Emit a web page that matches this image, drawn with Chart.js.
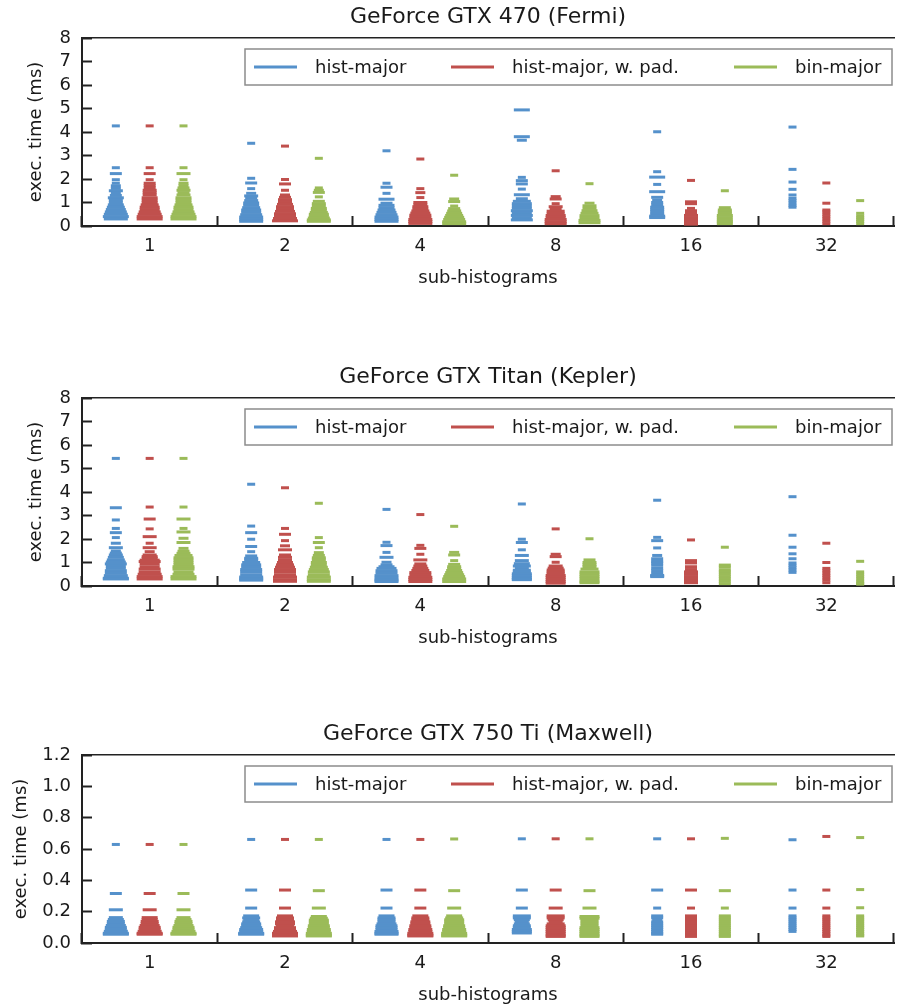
<!DOCTYPE html>
<html>
<head>
<meta charset="utf-8">
<script src="https://cdn.jsdelivr.net/npm/chart.js@4/dist/chart.umd.min.js"></script>
<style>
  html, body { margin: 0; padding: 0; background: #fff; overflow: hidden; }
  .panel { position: absolute; left: 0; width: 910px; height: 291px; }
</style>
</head>
<body>
<div class="panel" style="top:0px"><canvas id="fermi" width="910" height="291"></canvas></div>
<div class="panel" style="top:360px"><canvas id="kepler" width="910" height="291"></canvas></div>
<div class="panel" style="top:717px"><canvas id="maxwell" width="910" height="291"></canvas></div>
<script>
// sub-histogram counts on the x axis
var categories = ["1", "2", "4", "8", "16", "32"];
var seriesNames = ["hist-major", "hist-major, w. pad.", "bin-major"];
var seriesColors = ["#5591cb", "#c0504d", "#9bbb59"];

// each category: list of [exec. time in ms, number of runs at that time]
var fermiHist = [
  [[4.26,1],[2.48,1],[2.23,3],[1.97,1],[1.82,1],[1.71,2],[1.6,2],[1.5,4],[1.4,2],[1.3,3],[1.2,5],[1.1,4],[1.0,4],[0.9,5],[0.8,6],[0.7,7],[0.6,8],[0.5,9],[0.4,10],[0.3,9]],
  [[3.52,1],[2.03,1],[1.83,3],[1.59,1],[1.39,2],[1.28,4],[1.18,3],[1.08,4],[0.98,5],[0.88,5],[0.78,6],[0.68,7],[0.58,7],[0.48,8],[0.38,9],[0.28,9],[0.2,9]],
  [[3.2,1],[1.82,1],[1.65,3],[1.39,1],[1.14,5],[0.97,3],[0.88,5],[0.78,5],[0.68,6],[0.58,7],[0.48,8],[0.38,9],[0.28,9],[0.2,9]],
  [[4.94,5],[3.8,5],[3.65,2],[2.07,1],[1.93,3],[1.79,3],[1.57,1],[1.33,5],[1.16,3],[1.05,6],[0.95,7],[0.85,7],[0.75,7],[0.65,8],[0.55,7],[0.45,8],[0.35,7],[0.26,8]],
  [[4.01,1],[2.31,1],[2.08,5],[1.77,1],[1.46,5],[1.22,3],[1.1,2],[1.0,3],[0.9,3],[0.8,4],[0.7,4],[0.6,4],[0.5,4],[0.42,5],[0.36,5]],
  [[4.21,1],[2.41,1],[1.87,1],[1.56,1],[1.32,1],[1.18,1],[1.08,1],[0.98,1],[0.88,1],[0.8,1]]
];
var fermiPad = [
  [[4.26,1],[2.48,1],[2.23,3],[1.97,1],[1.82,3],[1.72,3],[1.62,3],[1.52,4],[1.42,4],[1.32,4],[1.2,5],[1.1,5],[1.0,5],[0.9,6],[0.8,7],[0.7,7],[0.6,8],[0.5,9],[0.4,10],[0.3,10]],
  [[3.4,1],[1.98,1],[1.79,3],[1.52,1],[1.32,2],[1.22,3],[1.12,4],[1.02,4],[0.92,5],[0.82,6],[0.72,6],[0.62,7],[0.52,8],[0.42,8],[0.32,9],[0.22,10]],
  [[2.85,1],[1.59,1],[1.42,2],[1.21,1],[1.0,4],[0.9,4],[0.82,5],[0.72,5],[0.64,6],[0.55,7],[0.46,8],[0.37,8],[0.28,9],[0.19,9],[0.11,9]],
  [[2.35,1],[1.25,2],[1.15,3],[0.95,1],[0.82,4],[0.72,3],[0.63,6],[0.54,6],[0.45,7],[0.37,7],[0.28,8],[0.18,8],[0.1,8]],
  [[1.94,1],[1.03,3],[0.95,3],[0.75,1],[0.65,3],[0.54,3],[0.45,4],[0.35,4],[0.25,4],[0.16,4],[0.08,4]],
  [[1.83,1],[0.97,1],[0.68,1],[0.6,1],[0.5,1],[0.4,1],[0.3,1],[0.2,1],[0.1,1]]
];
var fermiBin = [
  [[4.26,1],[2.48,1],[2.23,4],[1.97,1],[1.82,2],[1.72,2],[1.62,3],[1.52,4],[1.42,3],[1.32,4],[1.2,5],[1.1,5],[1.0,5],[0.9,6],[0.8,7],[0.7,7],[0.6,8],[0.5,9],[0.4,10],[0.3,10]],
  [[2.88,1],[1.62,1],[1.52,2],[1.43,3],[1.24,1],[1.05,3],[0.95,4],[0.85,4],[0.75,5],[0.67,5],[0.58,6],[0.5,7],[0.42,7],[0.34,8],[0.26,9],[0.2,9]],
  [[2.16,1],[1.15,2],[1.04,3],[0.85,1],[0.74,3],[0.64,4],[0.54,5],[0.45,6],[0.37,7],[0.28,8],[0.18,9],[0.1,9]],
  [[1.8,1],[0.97,2],[0.86,4],[0.75,4],[0.65,5],[0.54,6],[0.44,7],[0.33,7],[0.24,8],[0.14,8]],
  [[1.5,1],[0.78,3],[0.68,4],[0.6,4],[0.54,4],[0.45,5],[0.35,5],[0.25,5],[0.18,5],[0.1,5]],
  [[1.08,1],[0.54,1],[0.43,1],[0.35,1],[0.27,1],[0.19,1],[0.1,1]]
];

var keplerHist = [
  [[5.43,1],[3.33,3],[2.81,1],[2.45,1],[2.27,3],[2.06,1],[1.82,2],[1.63,4],[1.49,2],[1.4,3],[1.32,4],[1.22,5],[1.11,6],[1.02,7],[0.94,8],[0.85,7],[0.75,7],[0.65,8],[0.54,8],[0.44,9],[0.33,10],[0.3,10]],
  [[4.33,1],[2.55,1],[2.27,3],[1.99,1],[1.68,3],[1.46,1],[1.28,3],[1.18,4],[1.11,4],[1.0,6],[0.9,7],[0.8,7],[0.7,8],[0.6,8],[0.48,8],[0.38,9],[0.3,9],[0.25,9]],
  [[3.26,1],[1.86,1],[1.72,3],[1.43,1],[1.22,4],[1.01,2],[0.9,3],[0.82,5],[0.75,7],[0.65,8],[0.54,8],[0.44,9],[0.33,9],[0.25,9],[0.19,9]],
  [[3.49,1],[1.99,1],[1.85,3],[1.54,1],[1.3,4],[1.08,4],[0.95,5],[0.85,6],[0.75,4],[0.67,6],[0.6,6],[0.52,7],[0.44,7],[0.36,7],[0.3,7],[0.27,7]],
  [[3.65,1],[2.07,1],[1.93,3],[1.62,1],[1.3,2],[1.16,3],[1.05,3],[0.98,3],[0.88,3],[0.75,3],[0.65,3],[0.54,3],[0.45,4],[0.4,4]],
  [[3.8,1],[2.16,1],[1.65,1],[1.37,1],[1.16,1],[0.98,1],[0.88,1],[0.78,1],[0.68,1],[0.58,1]]
];
var keplerPad = [
  [[5.43,1],[3.36,1],[2.85,3],[2.43,1],[2.1,4],[1.82,1],[1.63,4],[1.46,2],[1.32,4],[1.25,5],[1.18,5],[1.1,7],[1.04,8],[0.94,7],[0.82,7],[0.72,8],[0.6,8],[0.5,9],[0.4,10],[0.3,10]],
  [[4.18,1],[2.45,1],[2.2,3],[1.93,1],[1.71,2],[1.54,4],[1.32,3],[1.22,4],[1.11,4],[1.0,5],[0.9,6],[0.8,7],[0.7,8],[0.6,8],[0.48,8],[0.38,9],[0.27,9],[0.2,9]],
  [[3.04,1],[1.73,1],[1.6,3],[1.35,1],[1.11,4],[0.94,3],[0.85,4],[0.75,5],[0.66,6],[0.57,8],[0.47,8],[0.37,9],[0.28,9],[0.19,9]],
  [[2.43,1],[1.35,2],[1.25,3],[1.01,1],[0.85,4],[0.76,5],[0.68,6],[0.6,6],[0.54,6],[0.45,7],[0.37,7],[0.28,7],[0.19,7],[0.12,7]],
  [[1.96,1],[1.08,3],[0.98,3],[0.82,3],[0.7,3],[0.6,4],[0.5,4],[0.4,4],[0.3,4],[0.22,4],[0.14,4]],
  [[1.82,1],[1.0,1],[0.75,1],[0.65,1],[0.55,1],[0.45,1],[0.35,1],[0.25,1],[0.14,1]]
];
var keplerBin = [
  [[5.43,1],[3.36,1],[2.85,4],[2.45,1],[2.3,4],[2.03,2],[1.85,4],[1.6,2],[1.48,3],[1.39,4],[1.3,6],[1.2,7],[1.1,7],[1.0,7],[0.9,7],[0.82,8],[0.72,8],[0.6,7],[0.5,8],[0.4,10],[0.3,10]],
  [[3.52,1],[2.06,1],[1.85,3],[1.63,1],[1.42,2],[1.3,3],[1.2,4],[1.11,4],[1.0,5],[0.9,5],[0.8,6],[0.7,7],[0.6,8],[0.48,8],[0.38,9],[0.27,9],[0.2,9]],
  [[2.54,1],[1.43,2],[1.32,3],[1.08,1],[0.92,3],[0.82,4],[0.75,4],[0.66,5],[0.57,6],[0.48,7],[0.4,8],[0.3,9],[0.19,9]],
  [[2.01,1],[1.11,3],[1.0,4],[0.9,4],[0.82,4],[0.72,6],[0.6,7],[0.5,7],[0.4,7],[0.3,7],[0.2,7],[0.14,7]],
  [[1.65,1],[0.89,3],[0.8,3],[0.68,3],[0.6,3],[0.5,3],[0.4,3],[0.3,3],[0.2,3],[0.1,3]],
  [[1.05,1],[0.6,1],[0.5,1],[0.4,1],[0.3,1],[0.2,1],[0.12,1],[0.08,1]]
];

var maxwellHist = [
  [[0.629,1],[0.316,3],[0.212,4],[0.162,4],[0.15,5],[0.138,6],[0.125,6],[0.112,7],[0.1,8],[0.088,8],[0.075,9],[0.062,10],[0.056,10]],
  [[0.661,1],[0.338,3],[0.223,3],[0.173,5],[0.16,6],[0.148,5],[0.135,6],[0.122,7],[0.11,7],[0.098,8],[0.086,9],[0.074,9],[0.062,10],[0.056,10]],
  [[0.661,1],[0.338,3],[0.223,3],[0.173,5],[0.16,6],[0.148,6],[0.135,6],[0.122,7],[0.11,8],[0.098,8],[0.086,8],[0.074,9],[0.062,9],[0.056,9]],
  [[0.665,1],[0.338,3],[0.223,3],[0.173,6],[0.16,6],[0.148,5],[0.135,4],[0.122,5],[0.11,6],[0.098,6],[0.086,7],[0.074,7],[0.064,7]],
  [[0.665,1],[0.338,3],[0.223,1],[0.173,3],[0.16,3],[0.148,2],[0.135,3],[0.122,3],[0.11,3],[0.098,3],[0.086,3],[0.074,3],[0.062,3],[0.056,3]],
  [[0.659,1],[0.338,1],[0.223,1],[0.173,1],[0.16,1],[0.148,1],[0.135,1],[0.122,1],[0.11,1],[0.098,1],[0.086,1],[0.074,1]]
];
var maxwellPad = [
  [[0.629,1],[0.316,3],[0.212,4],[0.162,5],[0.15,5],[0.138,6],[0.125,6],[0.112,7],[0.1,8],[0.088,8],[0.075,9],[0.062,10],[0.056,10]],
  [[0.661,1],[0.338,3],[0.223,3],[0.173,5],[0.16,6],[0.148,6],[0.135,7],[0.122,7],[0.11,6],[0.098,8],[0.086,8],[0.074,9],[0.062,10],[0.05,10],[0.045,10]],
  [[0.661,1],[0.338,3],[0.223,3],[0.173,5],[0.16,6],[0.148,6],[0.135,7],[0.122,7],[0.11,8],[0.098,8],[0.086,9],[0.074,9],[0.062,10],[0.05,10],[0.045,10]],
  [[0.665,1],[0.338,3],[0.223,4],[0.173,6],[0.16,6],[0.148,5],[0.135,4],[0.122,6],[0.11,7],[0.098,7],[0.086,7],[0.074,7],[0.062,7],[0.05,7],[0.042,7]],
  [[0.665,1],[0.338,3],[0.223,1],[0.173,3],[0.16,3],[0.148,3],[0.135,3],[0.122,3],[0.11,3],[0.098,3],[0.086,3],[0.074,3],[0.062,3],[0.05,3],[0.042,3]],
  [[0.68,1],[0.338,1],[0.223,1],[0.173,1],[0.16,1],[0.148,1],[0.135,1],[0.122,1],[0.11,1],[0.098,1],[0.086,1],[0.074,1],[0.062,1],[0.05,1],[0.042,1]]
];
var maxwellBin = [
  [[0.629,1],[0.316,3],[0.212,4],[0.162,4],[0.15,5],[0.138,6],[0.125,6],[0.112,7],[0.1,8],[0.088,8],[0.075,9],[0.062,10],[0.056,10]],
  [[0.661,1],[0.334,3],[0.223,4],[0.169,5],[0.158,6],[0.146,7],[0.134,7],[0.122,7],[0.11,8],[0.098,8],[0.086,9],[0.074,9],[0.062,10],[0.05,10],[0.045,10]],
  [[0.664,1],[0.334,3],[0.223,4],[0.173,5],[0.16,6],[0.148,7],[0.135,7],[0.122,7],[0.11,8],[0.098,8],[0.086,9],[0.074,9],[0.062,10],[0.05,10],[0.045,10]],
  [[0.665,1],[0.334,3],[0.223,4],[0.169,7],[0.158,7],[0.146,6],[0.134,6],[0.122,6],[0.11,6],[0.098,7],[0.086,7],[0.074,7],[0.062,7],[0.05,7],[0.042,7]],
  [[0.668,1],[0.334,3],[0.223,1],[0.173,3],[0.16,3],[0.148,3],[0.135,3],[0.122,3],[0.11,3],[0.098,3],[0.086,3],[0.074,3],[0.062,3],[0.05,3],[0.042,3]],
  [[0.673,1],[0.341,1],[0.225,1],[0.173,1],[0.16,1],[0.148,1],[0.135,1],[0.122,1],[0.11,1],[0.098,1],[0.086,1],[0.074,1],[0.062,1],[0.05,1],[0.045,1]]
];

var bigTicks = { min: 0, max: 8, step: 1 };
var smallTicks = { min: 0, max: 1.2, step: 0.2 };

Chart.defaults.font.family = '"DejaVu Sans", sans-serif';
Chart.defaults.font.size = 18;
Chart.defaults.color = "#1a1a1a";

// series sit left / middle / right inside each category
var seriesOffsets = [-0.25, 0, 0.25];

function buildPoints(dist, offset) {
  var pts = [];
  for (var c = 0; c < dist.length; c++) {
    for (var k = 0; k < dist[c].length; k++) {
      pts.push({ x: c + offset, y: dist[c][k][0], n: dist[c][k][1] });
    }
  }
  return pts;
}

// boxed legend inside the plot, top right
var legendBox = {
  id: "legendBox",
  afterDraw: function (chart) {
    var ctx = chart.ctx;
    var a = chart.chartArea;
    var left = a.left + 163, top = a.top + 11, w = 647, h = 36;
    var starts = [9, 206, 489];
    ctx.save();
    ctx.fillStyle = "#fff";
    ctx.fillRect(left, top, w, h);
    ctx.strokeStyle = "#8c8c8c";
    ctx.lineWidth = 1.5;
    ctx.strokeRect(left, top, w, h);
    ctx.font = '18px "DejaVu Sans"';
    ctx.textBaseline = "middle";
    chart.data.datasets.forEach(function (ds, i) {
      var x = left + starts[i], y = top + h / 2;
      ctx.strokeStyle = ds.borderColor;
      ctx.lineWidth = 3;
      ctx.beginPath();
      ctx.moveTo(x, y);
      ctx.lineTo(x + 43, y);
      ctx.stroke();
      ctx.fillStyle = "#1a1a1a";
      ctx.fillText(ds.label, x + 61, y + 1);
    });
    ctx.restore();
  }
};

function makePanel(id, title, series, yt, decimals, yTitlePad) {
  var datasets = [];
  for (var i = 0; i < series.length; i++) {
    datasets.push({
      label: seriesNames[i],
      data: buildPoints(series[i], seriesOffsets[i]),
      borderColor: seriesColors[i],
      backgroundColor: seriesColors[i],
      pointStyle: "line",
      pointBorderWidth: 3,
      pointRadius: function (c) { return c.raw ? 3 + c.raw.n : 4; },
      showLine: false
    });
  }

  return new Chart(document.getElementById(id).getContext("2d"), {
    type: "scatter",
    data: { datasets: datasets },
    plugins: [legendBox],
    options: {
      responsive: false,
      animation: false,
      events: [],
      layout: { padding: { left: 0, right: 6, top: 0, bottom: 0 } },
      plugins: { legend: { display: false }, tooltip: { enabled: false } },
      scales: {
        x: { type: "linear", display: false, min: -0.5, max: categories.length - 0.5 },
        cat: {
          type: "category",
          axis: "x",
          position: "bottom",
          labels: categories,
          offset: true,
          grid: { offset: true, drawOnChartArea: false, tickLength: -10, tickWidth: 2, color: "#222" },
          border: { display: true, color: "#222", width: 2 },
          ticks: { padding: 20, maxRotation: 0, autoSkip: false },
          title: { display: true, text: "sub-histograms", padding: { top: 0, bottom: 2 } },
          afterFit: function (s) { s.height = 65; }
        },
        top: {
          type: "linear",
          axis: "x",
          position: "top",
          min: 0,
          max: 1,
          ticks: { display: false },
          grid: { drawOnChartArea: false, drawTicks: false },
          border: { display: true, color: "#222", width: 1.5 },
          title: { display: true, text: title, font: { size: 22 }, padding: { top: 4, bottom: 0 } },
          afterFit: function (s) { s.height = 38; }
        },
        y: {
          min: yt.min,
          max: yt.max,
          ticks: {
            stepSize: yt.step,
            padding: 21,
            autoSkip: false,
            callback: function (v) { return v.toFixed(decimals); }
          },
          grid: { drawOnChartArea: false, tickLength: -10, tickWidth: 2, color: "#222" },
          border: { display: true, color: "#222", width: 2 },
          title: { display: true, text: "exec. time (ms)", padding: { top: yTitlePad, bottom: 0 } },
          afterFit: function (s) { s.width = 82; }
        }
      }
    }
  });
}

makePanel("fermi", "GeForce GTX 470 (Fermi)", [fermiHist, fermiPad, fermiBin], bigTicks, 0, 26);
makePanel("kepler", "GeForce GTX Titan (Kepler)", [keplerHist, keplerPad, keplerBin], bigTicks, 0, 26);
makePanel("maxwell", "GeForce GTX 750 Ti (Maxwell)", [maxwellHist, maxwellPad, maxwellBin], smallTicks, 1, 11);
</script>
</body>
</html>
